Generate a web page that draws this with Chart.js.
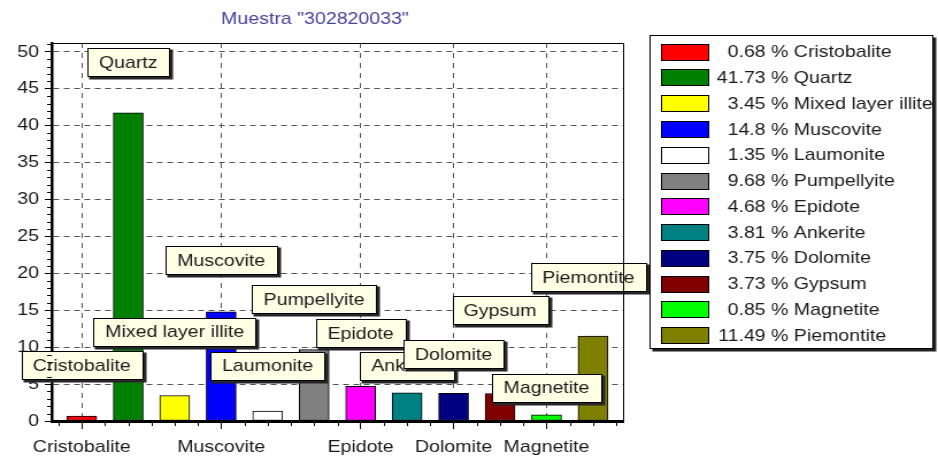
<!DOCTYPE html>
<html>
<head>
<meta charset="utf-8">
<script src="https://cdn.jsdelivr.net/npm/chart.js@4.4.1/dist/chart.umd.min.js"></script>
<style>
  html, body { margin: 0; padding: 0; background: #fff; overflow: hidden; }
  /* the chart is laid out on a narrower canvas and stretched sideways */
  #wrap { width: 816px; height: 457px; transform: scaleX(1.1495); transform-origin: 0 0; }
</style>
</head>
<body>
<div id="wrap"><canvas id="chart" width="816" height="457"></canvas></div>
<script>
var sampleTitle = 'Muestra "302820033"';
var minerals = ['Cristobalite', 'Quartz', 'Mixed layer illite', 'Muscovite', 'Laumonite', 'Pumpellyite',
                'Epidote', 'Ankerite', 'Dolomite', 'Gypsum', 'Magnetite', 'Piemontite'];
var percents = [0.68, 41.73, 3.45, 14.8, 1.35, 9.68, 4.68, 3.81, 3.75, 3.73, 0.85, 11.49];
var barColors = ['#ff0000', '#008000', '#ffff00', '#0000ff', '#ffffff', '#808080',
                 '#ff00ff', '#008080', '#000080', '#800000', '#00ff00', '#808000'];
var xTickIdx = [0, 3, 6, 8, 10];
var yTicks = [0, 5, 10, 15, 20, 25, 30, 35, 40, 45, 50];

// where each name tag floats (height in % units) and a small sideways nudge in px
var calloutY = [7.6, 48.6, 12.1, 21.8, 7.5, 16.5, 11.9, 7.5, 9.1, 15.0, 4.5, 19.5];
var calloutDx = [0, 0, 0, 0, 0, 0, 0, 0, 0, 0, 0, -4];

var FONT_FAMILY = '"Liberation Sans", Arial, sans-serif';
var FONT = '17px ' + FONT_FAMILY;
var INK = '#1a1a1a';
var GRID = '#555';

function tagBox(ctx, cx, cy, text) {
    ctx.font = FONT;
    var w = Math.round(ctx.measureText(text).width + 20), h = 28;
    var x = Math.round(cx - w / 2) + 0.5, y = Math.round(cy - h / 2) + 0.5;
    ctx.fillStyle = '#262626';
    ctx.fillRect(x + 1, y + 1, w + 2, h + 2);
    ctx.fillStyle = '#ffffe6';
    ctx.fillRect(x, y, w, h);
    ctx.strokeStyle = '#000';
    ctx.lineWidth = 1;
    ctx.strokeRect(x, y, w, h);
    ctx.fillStyle = INK;
    ctx.textAlign = 'center';
    ctx.textBaseline = 'middle';
    ctx.fillText(text, cx, cy + 1);
}

var extras = {
    id: 'extras',
    afterDatasetsDraw: function(chart) {
        var ctx = chart.ctx, xs = chart.scales.x, ys = chart.scales.y;
        ctx.save();
        minerals.forEach(function(name, i) {
            tagBox(ctx, xs.getPixelForValue(i) + calloutDx[i], ys.getPixelForValue(calloutY[i]), name);
        });
        ctx.restore();
    },
    afterDraw: function(chart) {
        var ctx = chart.ctx, a = chart.chartArea, xs = chart.scales.x, ys = chart.scales.y;
        ctx.save();

        // thin frame on top and right
        ctx.strokeStyle = '#000';
        ctx.lineWidth = 1;
        ctx.beginPath();
        ctx.moveTo(a.left, a.top + 0.5);
        ctx.lineTo(a.right + 0.5, a.top + 0.5);
        ctx.lineTo(a.right + 0.5, a.bottom);
        ctx.stroke();

        // minor ticks
        ctx.beginPath();
        for (var v = 1; v <= 51; v++) {
            if (v % 5 === 0) continue;
            var py = Math.round(ys.getPixelForValue(v)) + 0.5;
            ctx.moveTo(a.left - 4, py);
            ctx.lineTo(a.left, py);
        }
        for (var k = -0.5; k <= 11.5; k += 0.5) {
            if (xTickIdx.indexOf(k) >= 0) continue;
            var px = Math.round(xs.getPixelForValue(k)) + 0.5;
            ctx.moveTo(px, a.bottom);
            ctx.lineTo(px, a.bottom + 5);
        }
        ctx.stroke();

        // title
        ctx.font = FONT;
        ctx.fillStyle = '#44449c';
        ctx.textAlign = 'center';
        ctx.textBaseline = 'middle';
        ctx.fillText(sampleTitle, 274, 19);

        // legend
        var L = 565.5, T = 35.5, R = 811.5, B = 348.5;
        ctx.fillStyle = '#222';
        ctx.fillRect(L + 2, T + 2, R - L + 1, B - T + 1);
        ctx.fillStyle = '#fff';
        ctx.fillRect(L, T, R - L, B - T);
        ctx.strokeStyle = '#000';
        ctx.strokeRect(L, T, R - L, B - T);

        var numW = ctx.measureText('41.73').width;
        minerals.forEach(function(name, i) {
            var cy = 51.7 + i * 25.76;
            ctx.fillStyle = barColors[i];
            ctx.fillRect(575.5, Math.round(cy - 8) + 0.5, 41, 16);
            ctx.strokeStyle = '#000';
            ctx.strokeRect(575.5, Math.round(cy - 8) + 0.5, 41, 16);
            ctx.fillStyle = INK;
            ctx.textBaseline = 'middle';
            ctx.textAlign = 'right';
            ctx.fillText(String(percents[i]), 623.5 + numW, cy + 1);
            ctx.textAlign = 'left';
            ctx.fillText(' % ' + name, 623.5 + numW, cy + 1);
        });
        ctx.restore();
    }
};

new Chart(document.getElementById('chart'), {
    type: 'bar',
    data: {
        datasets: [{
            data: minerals.map(function(m, i) { return { x: i, y: percents[i] }; }),
            backgroundColor: barColors,
            borderColor: '#000',
            borderWidth: 1,
            borderSkipped: false,
            barThickness: 26
        }]
    },
    options: {
        responsive: false,
        animation: false,
        layout: { padding: { left: 0, right: 274, top: 43, bottom: 0 } },
        plugins: { legend: { display: false }, tooltip: { enabled: false } },
        scales: {
            x: {
                type: 'linear',
                offset: false,
                min: -0.646,
                max: 11.646,
                afterBuildTicks: function(scale) {
                    scale.ticks = xTickIdx.map(function(v) { return { value: v }; });
                },
                afterFit: function(scale) { scale.height = 36; },
                grid: { offset: false, color: GRID, lineWidth: 1, tickLength: 8, tickColor: '#000' },
                border: { display: true, color: '#000', width: 3, dash: [5, 5] },
                ticks: {
                    autoSkip: false,
                    maxRotation: 0,
                    padding: 8,
                    color: INK,
                    font: { family: FONT_FAMILY, size: 17 },
                    callback: function(v) { return minerals[v]; }
                }
            },
            y: {
                min: 0,
                max: 51.2,
                afterBuildTicks: function(scale) {
                    scale.ticks = yTicks.map(function(v) { return { value: v }; });
                },
                afterFit: function(scale) { scale.width = 45; },
                grid: { color: GRID, lineWidth: 1, tickLength: 6, tickColor: '#000' },
                border: { display: true, color: '#000', width: 2.5, dash: [5, 4] },
                ticks: {
                    padding: 5,
                    color: INK,
                    font: { family: FONT_FAMILY, size: 17 }
                }
            }
        }
    },
    plugins: [extras]
});
</script>
</body>
</html>
